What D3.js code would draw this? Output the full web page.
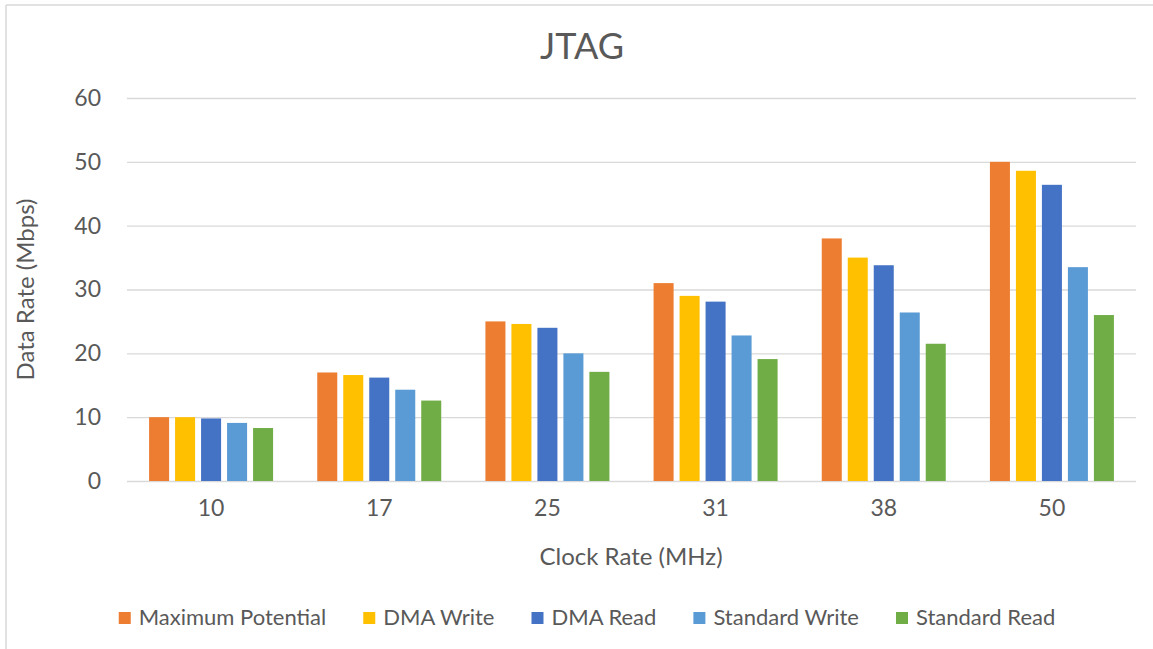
<!DOCTYPE html>
<html>
<head>
<meta charset="utf-8">
<script src="https://cdn.jsdelivr.net/npm/d3@7"></script>
<style>
  html, body { margin: 0; padding: 0; background: #fff; }
  svg { display: block; font-family: Lato, "Open Sans", sans-serif; }
</style>
</head>
<body>
<svg id="chart" width="1153" height="649"></svg>
<script>
// Clock rates (MHz) on the category axis
const clockRates = ["10", "17", "25", "31", "38", "50"];

// Series names and colours
const seriesNames = ["Maximum Potential", "DMA Write", "DMA Read", "Standard Write", "Standard Read"];
const seriesColors = ["#ED7D31", "#FFC000", "#4472C4", "#5B9BD5", "#70AD47"];

// Data rate (Mbps) per series, one value per clock rate
const maximumPotential = [10, 17, 25, 31, 38, 50];
const dmaWrite         = [10, 16.6, 24.6, 29.0, 35.0, 48.6];
const dmaRead          = [9.8, 16.2, 24.0, 28.1, 33.8, 46.4];
const standardWrite    = [9.1, 14.3, 20.0, 22.8, 26.4, 33.5];
const standardRead     = [8.3, 12.6, 17.1, 19.1, 21.5, 26.0];

const yTicks = [0, 10, 20, 30, 40, 50, 60];

const seriesValues = [maximumPotential, dmaWrite, dmaRead, standardWrite, standardRead];
const textColor = "#595959";

const svg = d3.select("#chart");
const W = 1153, H = 649;

// outer chart border (top and left edges)
svg.append("line").attr("x1", 6).attr("x2", W).attr("y1", 5).attr("y2", 5)
  .attr("stroke", "#D9D9D9").attr("stroke-width", 1.5);
svg.append("line").attr("x1", 6).attr("x2", 6).attr("y1", 5).attr("y2", H)
  .attr("stroke", "#D9D9D9").attr("stroke-width", 1.5);

const plot = { left: 127, right: 1136, top: 98, bottom: 481 };
const clusterWidth = 124;

const x0 = d3.scaleBand().domain(clockRates).range([plot.left, plot.right]).paddingInner(0).paddingOuter(0);
const x1 = d3.scaleBand().domain(seriesNames).range([0, clusterWidth]).paddingInner(0.23);
const y = d3.scaleLinear().domain([0, 60]).range([plot.bottom, plot.top]);

// gridlines
svg.append("g").selectAll("line").data(yTicks).join("line")
  .attr("x1", plot.left).attr("x2", plot.right)
  .attr("y1", d => y(d) + 0.5).attr("y2", d => y(d) + 0.5)
  .attr("stroke", "#D9D9D9").attr("stroke-width", 1.3);

// y axis tick labels
const yAxis = d3.axisLeft(y).tickValues(yTicks).tickSize(0).tickPadding(0);
const gy = svg.append("g").attr("transform", `translate(${plot.left - 26},0)`).call(yAxis);
gy.select(".domain").remove();
gy.selectAll("text").attr("fill", textColor).attr("font-size", 23)
  .attr("font-family", "Lato, 'Open Sans', sans-serif");

// bars
const groups = svg.append("g").selectAll("g").data(clockRates).join("g")
  .attr("transform", d => `translate(${x0(d) + x0.bandwidth() / 2 - clusterWidth / 2},0)`);

groups.selectAll("rect")
  .data((d, i) => seriesNames.map((s, k) => ({ s, v: seriesValues[k][i], c: seriesColors[k] })))
  .join("rect")
  .attr("x", d => x1(d.s))
  .attr("width", x1.bandwidth())
  .attr("y", d => y(d.v))
  .attr("height", d => y(0) - y(d.v))
  .attr("fill", d => d.c);

// x axis category labels
const xAxis = d3.axisBottom(x0).tickSize(0).tickPadding(0);
const gx = svg.append("g").attr("transform", `translate(0,${plot.bottom + 19})`).call(xAxis);
gx.select(".domain").remove();
gx.selectAll("text").attr("fill", textColor).attr("font-size", 23)
  .attr("font-family", "Lato, 'Open Sans', sans-serif");

// title
svg.append("text").attr("x", 582).attr("y", 59).attr("text-anchor", "middle")
  .attr("font-size", 36).attr("fill", textColor).text("JTAG");

// axis titles
svg.append("text").attr("x", 631).attr("y", 565).attr("text-anchor", "middle")
  .attr("font-size", 24).attr("fill", textColor).text("Clock Rate (MHz)");
svg.append("text").attr("transform", `translate(34,${(plot.top + plot.bottom) / 2}) rotate(-90)`)
  .attr("text-anchor", "middle").attr("font-size", 24).attr("fill", textColor).text("Data Rate (Mbps)");

// legend
const legend = svg.append("g");
const items = legend.selectAll("g").data(seriesNames).join("g");
items.append("rect").attr("width", 12).attr("height", 12).attr("y", -13)
  .attr("fill", (d, i) => seriesColors[i]);
items.append("text").attr("x", 20).attr("y", 0).attr("font-size", 22)
  .attr("fill", textColor).text(d => d);
const widths = [];
items.each(function () {
  widths.push(20 + this.querySelector("text").getComputedTextLength());
});
const gap = 37;
const total = d3.sum(widths) + gap * (widths.length - 1);
let start = 587 - total / 2;
items.attr("transform", (d, i) => {
  const t = `translate(${start},625)`;
  start += widths[i] + gap;
  return t;
});
</script>
</body>
</html>
